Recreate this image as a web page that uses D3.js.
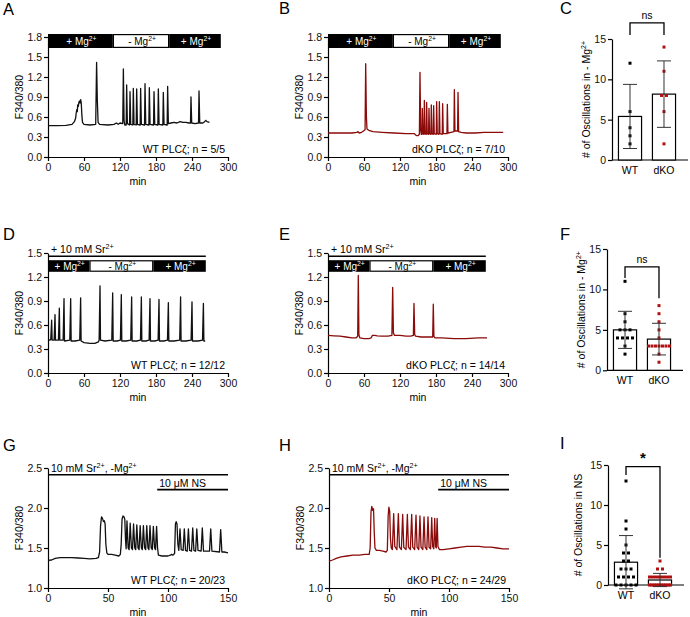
<!DOCTYPE html>
<html><head><meta charset="utf-8">
<script src="https://cdn.jsdelivr.net/npm/d3@7"></script>
<style>body{margin:0;background:#fff} svg{display:block;font-family:"Liberation Sans",Arial,sans-serif}</style>
</head><body><svg id="c" width="690" height="617"></svg>
<script>
// ---------- DATA ----------
const minTicks300 = [0, 60, 120, 180, 240, 300];
const minTicks150 = [0, 50, 100, 150];
const ratioTicks18 = [0, 0.3, 0.6, 0.9, 1.2, 1.5, 1.8];
const ratioTicks15 = [0, 0.3, 0.6, 0.9, 1.2, 1.5];
const ratioTicks25 = [1.0, 1.5, 2.0, 2.5];
const countTicks = [0, 5, 10, 15];
const groups = ["WT", "dKO"];

// Panel A: WT, Mg2+ add-back (time in min, F340/380)
const traceA = [
[0,0.47],[15,0.47],[30,0.475],[40,0.49],[44,0.53],[46,0.58],[47,0.66],[48,0.71],[48.8,0.68],[49.5,0.78],[50.5,0.76],[51.5,0.82],[52.5,0.84],[53.5,0.81],[54.5,0.86],[55.5,0.80],[56.5,0.62],[57.5,0.52],[60,0.49],[70,0.48],[79.5,0.49],[81,1.42],[82.2,0.85],[83.5,0.52],[86,0.49],[100,0.48],[110,0.49],[114,0.51],[117,0.49],[120,0.51],[124.6,0.50],[125.6,1.32],[126.8,0.55],[128,0.48],
[130.3,0.48],[131.1,1.08],[132.3,0.50],[135.9,0.48],[136.7,0.98],[137.9,0.49],[141.4,0.48],[142.2,1.03],[143.4,0.49],[147,0.48],[147.8,1.02],[149,0.49],[153.6,0.48],[154.4,1.03],[155.6,0.49],[160.9,0.48],[161.7,1.10],[162.9,0.49],[168.1,0.48],[168.9,1.04],[170.1,0.49],[175.9,0.48],[176.7,0.98],[177.9,0.49],[183.1,0.48],[183.9,1.02],[185.1,0.49],[191.4,0.48],[192.2,0.97],[193.4,0.49],[198.6,0.48],[199.4,1.06],[200.6,0.50],
[205,0.51],[210,0.52],[215,0.51],[220,0.53],[225,0.52],[230,0.52],[235,0.51],[237.5,0.51],[238.3,0.90],[239.5,0.51],[245,0.50],[250.9,0.51],[251.7,0.99],[252.9,0.51],[258,0.51],[261,0.53],[263,0.55],[265,0.53],[269,0.52]
];
// Panel B: dKO
const traceB = [
[0,0.36],[20,0.36],[40,0.36],[48,0.37],[50,0.38],[52,0.36],[56,0.37],[59,0.39],[61.8,0.41],[62.8,1.40],[64,0.60],[65,0.42],[68,0.40],[75,0.38],[90,0.37],[110,0.36],[130,0.35],[144,0.35],[146,0.33],[148,0.32],[150,0.32],[152.3,0.34],[153.3,1.27],[154.5,0.40],[155.5,0.34],
[156.5,0.34],[157.2,0.73],[158.2,0.35],[159.9,0.34],[160.6,0.85],[161.6,0.35],[163.7,0.34],[164.4,0.82],[165.4,0.35],[167.6,0.34],[168.3,0.73],[169.3,0.35],[171.5,0.34],[172.2,0.78],[173.2,0.35],[175.4,0.34],[176.1,0.77],[177.1,0.35],[180.4,0.34],[181.1,0.83],[182.1,0.35],[184.9,0.34],[185.6,0.83],[186.6,0.35],[190.4,0.34],[191.1,0.80],[192.1,0.35],[198.2,0.35],[198.9,0.79],[199.9,0.36],[205,0.37],[209.9,0.38],[210.6,1.01],[211.6,0.39],[216,0.39],[216.7,0.97],[217.7,0.38],
[222,0.37],[230,0.36],[245,0.36],[260,0.37],[280,0.37],[292,0.37]
];
// Panel D: WT, Sr2+
const traceD = [
[0,0.42],[3,0.41],[4.6,0.42],[6.1,0.66],[6.9,0.41],[10.2,0.41],[11.7,0.73],[12.5,0.41],[17.4,0.41],[18.9,0.81],[19.7,0.41],[25.2,0.41],[26.7,0.93],[27.5,0.40],[36.3,0.41],[37.8,0.93],[38.6,0.40],[45,0.40],[52.9,0.41],[54.4,0.94],[55.2,0.40],[60,0.38],[70,0.37],[78,0.37],[84,0.39],[85.2,0.41],[86.7,1.09],[87.5,0.41],[95,0.40],[106.3,0.41],[107.8,1.00],[108.6,0.40],[115,0.40],[120.7,0.41],[122.2,0.98],[123,0.40],[130,0.40],[137.9,0.41],[139.4,0.95],[140.2,0.40],[148,0.40],[154.1,0.41],[155.6,0.95],[156.4,0.40],[163,0.40],[168.5,0.41],[170,0.93],[170.8,0.40],[178,0.40],[183.5,0.41],[185,0.92],[185.8,0.40],[193,0.40],[199.1,0.41],[200.6,0.88],[201.4,0.40],[210,0.40],[219.5,0.41],[221,0.95],[221.8,0.40],[230,0.40],[238.5,0.41],[240,0.89],[240.8,0.40],[250,0.40],[257.5,0.41],[259,0.87],[259.8,0.40],[262,0.40]
];
// Panel E: dKO, Sr2+
const traceE = [
[0,0.47],[10,0.465],[20,0.46],[30,0.45],[40,0.44],[47,0.44],[49.5,0.46],[50.5,1.22],[51.5,0.48],[53,0.44],[60,0.43],[68,0.43],[72,0.44],[74,0.47],[78,0.47],[82,0.465],[90,0.46],[100,0.46],[106.5,0.47],[107.8,1.07],[109,0.50],[111,0.47],[120,0.47],[130,0.46],[138,0.46],[142.3,0.47],[143.3,0.87],[144.5,0.48],[146,0.46],[155,0.45],[165,0.45],[174.5,0.45],[175.5,0.86],[176.5,0.46],[178,0.44],[190,0.44],[210,0.43],[230,0.43],[250,0.44],[265,0.44]
];
// Panel G: WT, Sr2+ then NS
const traceG = [
[0,1.345],[3,1.35],[6,1.37],[10,1.38],[15,1.38],[20,1.38],[25,1.375],[30,1.37],[35,1.365],[40,1.37],[42,1.38],[43,1.45],[43.8,1.78],[44.6,1.89],[45.4,1.87],[46.2,1.83],[47,1.84],[47.6,1.80],[48.2,1.55],[49,1.44],[50,1.42],[53,1.42],[56,1.41],[59,1.40],[60.3,1.42],[61,1.55],[61.7,1.86],[62.5,1.90],[63.3,1.89],[64,1.86],[64.6,1.60],[65.1,1.49],
[65.8,1.84],[66.8,1.50],[67.6,1.48],[68.5,1.81],[69.5,1.50],[70.4,1.48],[71.3,1.80],[72.3,1.50],[73.1,1.48],[74.0,1.79],[75.0,1.50],[75.9,1.48],[76.8,1.78],[77.8,1.50],[78.6,1.48],[79.5,1.78],[80.5,1.50],[81.4,1.48],[82.3,1.78],[83.3,1.50],[84.1,1.48],[85.0,1.78],[86.0,1.50],[86.9,1.48],[87.8,1.77],[88.8,1.50],[89.6,1.48],[90.5,1.77],[91.3,1.50],[92,1.41],[95,1.40],[100,1.40],[102,1.41],[103,1.42],[104,1.41],[105.5,1.43],[106.2,1.80],[106.8,1.83],[107.5,1.80],[108.2,1.55],[109,1.47],[110,1.74],[111,1.48],[112.6,1.47],[113.6,1.74],[114.6,1.47],[116,1.46],[117,1.74],[118,1.47],[119.6,1.46],[120.6,1.75],[121.6,1.47],[123,1.46],[124,1.74],[125,1.47],[127.6,1.46],[128.6,1.75],[129.6,1.46],[134.6,1.46],[135.6,1.74],[136.6,1.46],[142.9,1.45],[143.9,1.73],[144.9,1.45],[147,1.45],[150,1.44]
];
// Panel H: dKO, Sr2+ then NS
const traceH = [
[0,1.335],[3,1.35],[6,1.37],[10,1.39],[15,1.40],[20,1.41],[25,1.41],[30,1.42],[33.5,1.42],[34.3,1.50],[35,1.95],[35.7,2.02],[36.4,1.97],[37.1,1.99],[37.7,1.70],[38.3,1.50],[39.5,1.47],[42,1.47],[45,1.46],[47.5,1.45],[48.6,1.47],[49.3,1.90],[49.9,2.01],[50.6,1.96],[51.2,1.62],[51.9,1.50],[52.8,1.48],[53.9,1.93],[54.8,1.52],[56.6,1.48],[57.8,1.93],[58.7,1.51],[60.3,1.48],[61.4,1.92],[62.3,1.51],[64.2,1.48],[65.3,1.92],[66.2,1.51],[67.8,1.48],[68.9,1.92],[69.8,1.51],[71.4,1.48],[72.5,1.91],[73.4,1.51],[74.8,1.48],[75.8,1.90],[76.7,1.51],[78.2,1.48],[79.2,1.89],[80.1,1.51],[81.5,1.48],[82.5,1.89],[83.4,1.51],[84.7,1.49],[85.6,1.88],[86.4,1.52],[87.3,1.49],[88.1,1.87],[88.8,1.52],[89.4,1.50],[90.1,1.87],[90.8,1.52],[92,1.48],[95,1.48],[100,1.49],[105,1.50],[110,1.51],[115,1.52],[120,1.52],[125,1.52],[130,1.51],[135,1.51],[140,1.50],[145,1.49],[150,1.49]
];
// Oscillation counts per cell
const countC_WT = [12, 6, 4, 3, 2];
const countC_KO = [14, 11, 8, 8, 6, 2];
const countF_WT = [11, 7, 6, 5, 5, 5, 4, 4, 4, 4, 3, 2];
const countF_KO = [8, 7, 6, 5, 4, 3, 3, 3, 3, 3, 3, 3, 2, 1];
const countI_WT = [13, 8, 7, 5, 4, 4, 3, 3, 2, 2, 2, 1, 1, 1, 1, 0, 0, 0, 0, 0];
const countI_KO = [3, 2, 2, 1, 1, 1, 1, 1, 1, 1, 1, 0, 0, 0, 0, 0, 0, 0, 0, 0, 0, 0, 0, 0];

// Treatment periods (min)
const mgPeriods300 = [{from:0,to:108,label:"+ Mg",on:true},{from:108,to:202,label:"- Mg",on:false},{from:202,to:288,label:"+ Mg",on:true}];
const mgPeriodsSr = [{from:0,to:69,label:"+ Mg",on:true},{from:69,to:175.5,label:"- Mg",on:false},{from:175.5,to:263,label:"+ Mg",on:true}];

const WT_COLOR = "#111", KO_COLOR = "#8b0a0a", KO_DOT = "#b01010";

// ---------- DRAWING ----------
const svg = d3.select("#c");
const FS = 10.5;

function rich(g, x, y, parts, size, anchor, fill) {
  const t = g.append("text").attr("x", x).attr("y", y).attr("font-size", size)
    .attr("text-anchor", anchor || "start").attr("fill", fill || "#000");
  let raised = false;
  parts.forEach(p => {
    const s = t.append("tspan");
    if (typeof p === "object") { s.attr("font-size", size * 0.68).attr("dy", -size * 0.4).text(p.sup); raised = true; }
    else { if (raised) { s.attr("dy", size * 0.4); raised = false; } s.text(p); }
  });
  return t;
}
function styleAxis(g) {
  g.selectAll("path,line").attr("stroke", "#000").attr("stroke-width", 1.2);
  g.selectAll("text").attr("font-size", FS).attr("fill", "#111").attr("font-family", "Liberation Sans, Arial, sans-serif");
}
function letter(x, y, s) {
  svg.append("text").attr("x", x).attr("y", y).attr("font-size", 16.5).text(s);
}

function tracePanel(c) {
  const g = svg.append("g");
  const x = d3.scaleLinear().domain(c.xDomain).range([c.x0, c.x1]);
  const y = d3.scaleLinear().domain(c.yDomain).range([c.yb, c.yt]);
  g.append("g").attr("transform", `translate(0,${c.yb})`)
    .call(d3.axisBottom(x).tickValues(c.xTicks).tickSize(4).tickSizeOuter(0).tickPadding(3)).call(styleAxis);
  g.append("g").attr("transform", `translate(${c.x0},0)`)
    .call(d3.axisLeft(y).tickValues(c.yTicks).tickFormat(d3.format(".1f")).tickSize(4).tickSizeOuter(0).tickPadding(2)).call(styleAxis);
  g.append("text").attr("x", (c.x0 + c.x1) / 2).attr("y", c.yb + 28).attr("text-anchor", "middle").attr("font-size", 10.5).text("min");
  g.append("text").attr("transform", `translate(${c.x0 - 25},${(c.yb + c.yt) / 2}) rotate(-90)`)
    .attr("text-anchor", "middle").attr("font-size", 10.5).text("F340/380");
  // trace
  g.append("path").datum(c.trace).attr("fill", "none").attr("stroke", c.color).attr("stroke-width", 1.3)
    .attr("stroke-linejoin", "round").attr("d", d3.line().x(d => x(d[0])).y(d => y(d[1])));
  // annotation
  rich(g, c.x1 - 3, c.yb - 4, [c.who + " PLCζ; n = " + c.n], 10.5, "end");
  // Sr line
  if (c.sr) {
    g.append("line").attr("x1", x(0)).attr("x2", x(c.sr.to)).attr("y1", y(c.sr.y)).attr("y2", y(c.sr.y))
      .attr("stroke", "#000").attr("stroke-width", 1.6);
    rich(g, x(0) + 3, y(c.sr.y) - 3, c.sr.label, 10.5, "start");
  }
  if (c.ns) {
    g.append("line").attr("x1", x(c.ns.from)).attr("x2", x(c.ns.to)).attr("y1", y(c.ns.y)).attr("y2", y(c.ns.y))
      .attr("stroke", "#000").attr("stroke-width", 1.6);
    rich(g, x(c.ns.from) + 2, y(c.ns.y) - 3, ["10 μM NS"], 10.5, "start");
  }
  if (c.band) {
    const b = c.band;
    c.periods.forEach(p => {
      g.append("rect").attr("x", x(p.from) + (p.on ? 0 : 0.6)).attr("width", x(p.to) - x(p.from) - (p.on ? 0 : 1.2))
        .attr("y", y(b.top) + (p.on ? 0 : 0.6)).attr("height", y(b.bottom) - y(b.top) - (p.on ? 0 : 1.2))
        .attr("fill", p.on ? "#000" : "#fff").attr("stroke", "#000").attr("stroke-width", p.on ? 0 : 1.2);
      rich(g, (x(p.from) + x(p.to)) / 2 + 1, (y(b.top) + y(b.bottom)) / 2 + 4, [p.label, {sup: "2+"}], 10, "middle", p.on ? "#fff" : "#000");
    });
  }
}

function barPanel(c) {
  const g = svg.append("g");
  const y = d3.scaleLinear().domain([0, 15]).range([c.yb, c.yt]);
  const x = d3.scaleBand().domain(groups).range([c.x0, c.x0 + 70]).paddingInner(0.32).paddingOuter(0.19);
  g.append("g").attr("transform", `translate(${c.x0},0)`)
    .call(d3.axisLeft(y).tickValues(countTicks).tickFormat(d3.format("d")).tickSize(4).tickSizeOuter(0).tickPadding(2)).call(styleAxis);
  g.append("line").attr("x1", c.x0).attr("x2", c.x0 + 76).attr("y1", c.yb).attr("y2", c.yb).attr("stroke", "#000").attr("stroke-width", 1.2);
  groups.forEach((k, i) => {
    g.append("text").attr("x", x(k) + x.bandwidth() / 2).attr("y", c.yb + 14).attr("text-anchor", "middle").attr("font-size", 10.5).text(k);
  });
  const yl = g.append("text").attr("transform", `translate(${c.x0 - c.labOff},${(c.yb + c.yt) / 2}) rotate(-90)`)
    .attr("text-anchor", "middle").attr("font-size", 10.5);
  yl.append("tspan").text(c.ylabel[0]);
  if (c.ylabel[1]) { yl.append("tspan").attr("font-size", 7).attr("dy", -4.5).text(c.ylabel[1]); }
  c.data.forEach((vals, i) => {
    const k = groups[i];
    const m = d3.mean(vals), sd = d3.deviation(vals);
    const cx = x(k) + x.bandwidth() / 2;
    g.append("rect").attr("x", x(k)).attr("width", x.bandwidth()).attr("y", y(m)).attr("height", y(0) - y(m))
      .attr("fill", "#fff").attr("stroke", "#000").attr("stroke-width", 1.2);
    // dots (spread duplicates)
    const byVal = d3.group(vals, v => v);
    byVal.forEach((arr, v) => {
      const n = arr.length, sp = n > 1 ? Math.min(5, 21 / (n - 1)) : 0;
      arr.forEach((_, j) => {
        g.append("rect").attr("x", cx + (j - (n - 1) / 2) * sp - 1.5).attr("y", y(v) - 1.5).attr("width", 3).attr("height", 3)
          .attr("fill", i === 0 ? "#000" : KO_DOT);
      });
    });
    const ec = "#333";
    g.append("line").attr("x1", cx).attr("x2", cx).attr("y1", y(m - sd)).attr("y2", y(m + sd)).attr("stroke", ec).attr("stroke-width", 1);
    [m - sd, m + sd].forEach(v => g.append("line").attr("x1", cx - 7).attr("x2", cx + 7).attr("y1", y(v)).attr("y2", y(v)).attr("stroke", ec).attr("stroke-width", 1));
  });
  // bracket
  const b = c.bracket;
  const c1 = x("WT") + x.bandwidth() / 2, c2 = x("dKO") + x.bandwidth() / 2;
  g.append("path").attr("fill", "none").attr("stroke", "#000").attr("stroke-width", 1.3)
    .attr("d", `M${c1},${y(b.l)}V${y(b.top)}H${c2}V${y(b.r)}`);
  g.append("text").attr("x", (c1 + c2) / 2).attr("y", y(b.top) - 4).attr("text-anchor", "middle")
    .attr("font-size", b.text === "*" ? 15 : 10.5).attr("font-weight", b.text === "*" ? "bold" : "normal").text(b.text);
}

tracePanel({x0:48, x1:228, yb:157, yt:37, xDomain:[0,300], yDomain:[0,1.8], xTicks:minTicks300, yTicks:ratioTicks18,
  trace:traceA, color:WT_COLOR, who:"WT", n:"5/5", band:{top:1.845, bottom:1.635}, periods:mgPeriods300});
tracePanel({x0:328, x1:508, yb:157, yt:37, xDomain:[0,300], yDomain:[0,1.8], xTicks:minTicks300, yTicks:ratioTicks18,
  trace:traceB, color:KO_COLOR, who:"dKO", n:"7/10", band:{top:1.845, bottom:1.635}, periods:mgPeriods300});
tracePanel({x0:48, x1:228, yb:373, yt:253, xDomain:[0,300], yDomain:[0,1.5], xTicks:minTicks300, yTicks:ratioTicks15,
  trace:traceD, color:WT_COLOR, who:"WT", n:"12/12", band:{top:1.41, bottom:1.265}, periods:mgPeriodsSr,
  sr:{y:1.46, to:263, label:["+ 10 mM Sr", {sup:"2+"}]}});
tracePanel({x0:328, x1:508, yb:373, yt:253, xDomain:[0,300], yDomain:[0,1.5], xTicks:minTicks300, yTicks:ratioTicks15,
  trace:traceE, color:KO_COLOR, who:"dKO", n:"14/14", band:{top:1.41, bottom:1.265}, periods:mgPeriodsSr,
  sr:{y:1.46, to:263, label:["+ 10 mM Sr", {sup:"2+"}]}});
tracePanel({x0:48, x1:228, yb:588, yt:468, xDomain:[0,150], yDomain:[1.0,2.5], xTicks:minTicks150, yTicks:ratioTicks25,
  trace:traceG, color:WT_COLOR, who:"WT", n:"20/23",
  sr:{y:2.416, to:150, label:["10 mM Sr", {sup:"2+"}, ", -Mg", {sup:"2+"}]}, ns:{y:2.23, from:91, to:150}});
tracePanel({x0:329, x1:509, yb:588, yt:468, xDomain:[0,150], yDomain:[1.0,2.5], xTicks:minTicks150, yTicks:ratioTicks25,
  trace:traceH, color:KO_COLOR, who:"dKO", n:"24/29",
  sr:{y:2.416, to:150, label:["10 mM Sr", {sup:"2+"}, ", -Mg", {sup:"2+"}]}, ns:{y:2.23, from:91, to:150}});

barPanel({x0:612, yb:160, yt:39, data:[countC_WT, countC_KO], ylabel:["# of Oscillations in - Mg", "2+"], labOff:22,
  bracket:{top:17.0, l:15.5, r:15.5, text:"ns"}});
barPanel({x0:607, yb:370.3, yt:249, data:[countF_WT, countF_KO], ylabel:["# of Oscillations in - Mg", "2+"], labOff:22,
  bracket:{top:12.8, l:11.4, r:8.9, text:"ns"}});
barPanel({x0:608, yb:585, yt:465, data:[countI_WT, countI_KO], ylabel:["# of Oscillations in NS"], labOff:26,
  bracket:{top:14.8, l:13.75, r:3.4, text:"*"}});

letter(3, 15, "A"); letter(279, 14, "B"); letter(560, 14, "C");
letter(3, 240, "D"); letter(279, 240, "E"); letter(560, 240, "F");
letter(3, 451, "G"); letter(279, 451, "H"); letter(560, 449, "I");
</script></body></html>
